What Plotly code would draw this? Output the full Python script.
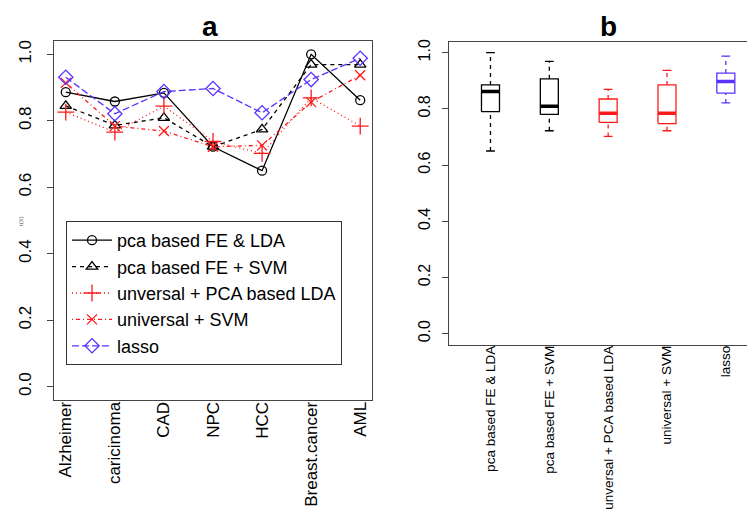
import numpy as np
import plotly.graph_objects as go

datasets = ["Alzheimer", "caricinoma", "CAD", "NPC", "HCC", "Breast.cancer", "AML"]
methods = ["pca based FE & LDA", "pca based FE + SVM", "unversal + PCA based LDA",
           "universal + SVM", "lasso"]

pca_lda = [0.886, 0.858, 0.884, 0.722, 0.650, 1.000, 0.862]
pca_svm = [0.845, 0.786, 0.809, 0.722, 0.774, 0.969, 0.969]
univ_pca_lda = [0.826, 0.766, 0.844, 0.738, 0.702, 0.869, 0.784]
univ_svm = [0.914, 0.784, 0.769, 0.722, 0.726, 0.856, 0.937]
lasso = [0.931, 0.821, 0.888, 0.897, 0.824, 0.924, 0.988]

series = [pca_lda, pca_svm, univ_pca_lda, univ_svm, lasso]
colors = ["black", "black", "#ff1a1a", "#ff1a1a", "#5a32ff"]
dashes = ["solid", "4px,4px", "1px,3px", "1px,3px,4px,3px", "7px,3px"]
symbols = ["circle-open", "triangle-up-open", "cross-thin-open", "x-thin-open", "diamond-open"]
msizes = [9, 10, 12, 10, 11]

yticks = [0.0, 0.2, 0.4, 0.6, 0.8, 1.0]
ytext = ["0.0", "0.2", "0.4", "0.6", "0.8", "1.0"]

FONT = "Liberation Sans, Arial, Helvetica, sans-serif"
AX = "#444444"

# the page body has an 8px margin: figure is sized to the visible area
OFF = 8
W, H = 755 - OFF, 512 - OFF


def px(x):
    return (x - OFF) / W


def py(y):
    return 1 - (y - OFF) / H


fig = go.Figure()
xpos = list(range(1, len(datasets) + 1))
for s, name, c, d, sym, ms in zip(series, methods, colors, dashes, symbols, msizes):
    fig.add_trace(go.Scatter(
        x=xpos, y=s, name=name, mode="lines+markers",
        line=dict(color=c, width=1.3, dash=d),
        marker=dict(symbol=sym, size=ms, color=c, line=dict(color=c, width=1.3)),
        xaxis="x", yaxis="y"))


def fivenum(v):
    x = np.sort(np.asarray(v, dtype=float))
    n = len(x)
    n4 = np.floor((n + 3) / 2) / 2
    d = np.array([1, n4, (n + 1) / 2, n + 1 - n4, n]) - 1
    return 0.5 * (x[np.floor(d).astype(int)] + x[np.ceil(d).astype(int)])


hw = 0.153
cw = 0.075
for i, (s, c) in enumerate(zip(series, colors), start=1):
    mn, q1, med, q3, mx = fivenum(s)
    iqr = q3 - q1
    arr = np.asarray(s)
    lo = arr[arr >= q1 - 1.5 * iqr].min()
    hi = arr[arr <= q3 + 1.5 * iqr].max()
    kw = dict(xaxis="x2", yaxis="y2", showlegend=False, mode="lines", hoverinfo="skip")
    fig.add_trace(go.Scatter(x=[i, i, None, i, i], y=[lo, q1, None, q3, hi],
                             line=dict(color=c, width=1.3, dash="4px,4px"), **kw))
    fig.add_trace(go.Scatter(x=[i - cw, i + cw, None, i - cw, i + cw], y=[lo, lo, None, hi, hi],
                             line=dict(color=c, width=1.3), **kw))
    fig.add_trace(go.Scatter(x=[i - hw, i + hw, i + hw, i - hw, i - hw], y=[q1, q1, q3, q3, q1],
                             line=dict(color=c, width=1.3), **kw))
    fig.add_trace(go.Scatter(x=[i - hw, i + hw], y=[med, med],
                             line=dict(color=c, width=3.5), **kw))

fig.update_layout(
    template="none",
    width=W, height=H,
    margin=dict(l=0, r=0, t=0, b=0),
    paper_bgcolor="white", plot_bgcolor="white",
    font=dict(family=FONT, color="black"),
    showlegend=True,
    legend=dict(x=px(66), y=py(221), xanchor="left", yanchor="top",
                bgcolor="white", bordercolor="#333", borderwidth=1,
                font=dict(size=18, family=FONT), itemwidth=40),
    xaxis=dict(domain=[px(54), px(372)], range=[0.76, 7.24], tickvals=xpos, ticktext=datasets,
               tickangle=-90, ticks="", tickfont=dict(size=17), ticklabelstandoff=-6,
               showline=True, mirror=True,
               linecolor=AX, linewidth=1.2, showgrid=False, zeroline=False, anchor="y",
               automargin=False),
    yaxis=dict(domain=[py(400), py(41)], range=[-0.04, 1.04], tickvals=yticks,
               ticktext=ytext, tickangle=-90, ticks="outside", ticklen=6, tickcolor=AX,
               tickfont=dict(size=17), ticklabelstandoff=9,
               showline=True, mirror=True, linecolor=AX, linewidth=1.2,
               showgrid=False, zeroline=False, anchor="x", automargin=False),
    xaxis2=dict(domain=[px(449.3), 1.0], range=[0.3, 5.496], tickvals=[1, 2, 3, 4, 5],
                ticktext=methods, tickangle=-90, ticks="", tickfont=dict(size=13.5),
                ticklabelstandoff=-6,
                showline=True, mirror=True, linecolor=AX, linewidth=1.2, showgrid=False,
                zeroline=False, anchor="y2", automargin=False),
    yaxis2=dict(domain=[py(345.3), py(41.7)], range=[-0.0415, 1.039], tickvals=yticks,
                ticktext=ytext, tickangle=-90, ticks="outside", ticklen=6, tickcolor=AX,
                tickfont=dict(size=16), ticklabelstandoff=6,
                showline=True, mirror=False, linecolor=AX, linewidth=1.2,
                showgrid=False, zeroline=False, anchor="x2", automargin=False),
    annotations=[
        dict(text="<b>a</b>", x=px(209.5), y=py(27), xref="paper", yref="paper",
             xanchor="center", yanchor="middle", showarrow=False, borderpad=0,
             font=dict(size=28)),
        dict(text="<b>b</b>", x=px(608.5), y=py(27), xref="paper", yref="paper",
             xanchor="center", yanchor="middle", showarrow=False, borderpad=0,
             font=dict(size=28)),
        dict(text="t(X)", x=px(16), y=py(221), xref="paper", yref="paper",
             textangle=-90, showarrow=False, font=dict(size=6, color="#555")),
    ],
)

fig.write_html("out.html")
